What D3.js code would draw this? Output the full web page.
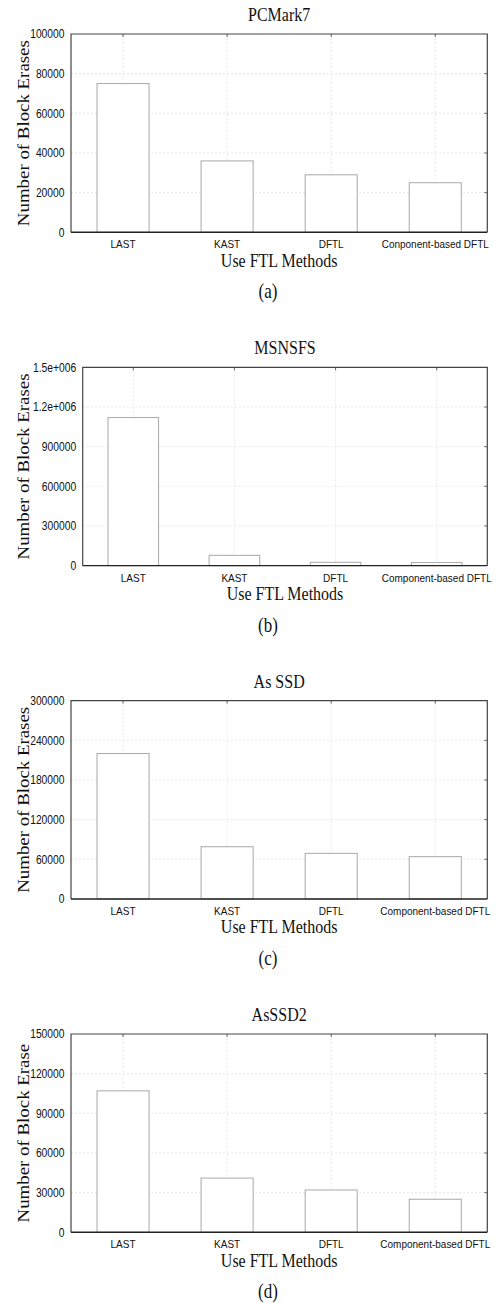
<!DOCTYPE html>
<html>
<head>
<meta charset="utf-8">
<script src="https://cdn.jsdelivr.net/npm/d3@7"></script>
<style>
  body { margin: 0; background: #fff; }
  svg { display: block; }
</style>
</head>
<body>
<svg id="chart" width="496" height="1303"></svg>
<script>
// data
var titles = ["PCMark7", "MSNSFS", "As SSD", "AsSSD2"];
var panelTags = ["(a)", "(b)", "(c)", "(d)"];
var categoriesA = ["LAST", "KAST", "DFTL", "Conponent-based DFTL"];
var categories = ["LAST", "KAST", "DFTL", "Component-based DFTL"];
var pcmark7 = [75000, 36000, 29000, 25000];
var msnsfs = [1120000, 78000, 25000, 23000];
var asSSD = [220000, 79000, 69000, 64000];
var asSSD2 = [107000, 41000, 32000, 25000];
var ticksA = [0, 20000, 40000, 60000, 80000, 100000];
var ticksB = [0, 300000, 600000, 900000, 1200000, 1500000];
var tickLabelsB = ["0", "300000", "600000", "900000", "1.2e+006", "1.5e+006"];
var ticksC = [0, 60000, 120000, 180000, 240000, 300000];
var ticksD = [0, 30000, 60000, 90000, 120000, 150000];
var yTitles = ["Number of Block Erases", "Number of Block Erases", "Number of Block Erases", "Number of Block Erase"];
var xTitle = "Use FTL Methods";

var panels = [
  { title: titles[0], tag: panelTags[0], cats: categoriesA, vals: pcmark7, ticks: ticksA, labels: ticksA.map(String), yTitle: yTitles[0], left: 71 },
  { title: titles[1], tag: panelTags[1], cats: categories, vals: msnsfs, ticks: ticksB, labels: tickLabelsB, yTitle: yTitles[1], left: 82.7 },
  { title: titles[2], tag: panelTags[2], cats: categories, vals: asSSD, ticks: ticksC, labels: ticksC.map(String), yTitle: yTitles[2], left: 71 },
  { title: titles[3], tag: panelTags[3], cats: categories, vals: asSSD2, ticks: ticksD, labels: ticksD.map(String), yTitle: yTitles[3], left: 71 }
];

var svg = d3.select("#chart");
var right = 487.3, plotH = 198.3, stretch = 1.18;
var serif = "'Liberation Serif', 'Times New Roman', serif";
var sans = "'Liberation Sans', Arial, sans-serif";

panels.forEach(function (p, i) {
  var top = 34 + i * 333.33;
  var bottom = top + plotH;
  var g = svg.append("g");

  var x = d3.scaleBand().domain(p.cats).range([p.left, right]).paddingInner(0.5).paddingOuter(0.25);
  var y = d3.scaleLinear().domain([0, d3.max(p.ticks)]).range([bottom, top]);

  // grid
  g.selectAll(".hgrid").data(p.ticks.slice(1, -1)).enter().append("line")
    .attr("x1", p.left).attr("x2", right)
    .attr("y1", function (d) { return y(d); }).attr("y2", function (d) { return y(d); })
    .attr("stroke", "#e2e2e2").attr("stroke-width", 0.8).attr("stroke-dasharray", "2,2");
  g.selectAll(".vgrid").data(p.cats).enter().append("line")
    .attr("x1", function (d) { return x(d) + x.bandwidth() / 2; })
    .attr("x2", function (d) { return x(d) + x.bandwidth() / 2; })
    .attr("y1", top).attr("y2", bottom)
    .attr("stroke", "#e2e2e2").attr("stroke-width", 0.8).attr("stroke-dasharray", "2,2");

  // bars
  g.selectAll("rect.bar").data(p.vals).enter().append("rect")
    .attr("class", "bar")
    .attr("x", function (d, j) { return x(p.cats[j]); })
    .attr("y", function (d) { return y(d); })
    .attr("width", x.bandwidth())
    .attr("height", function (d) { return bottom - y(d); })
    .attr("fill", "#fff").attr("stroke", "#a8a8a8").attr("stroke-width", 1);

  // inner tick marks on top and right edges
  g.selectAll(".tt").data(p.cats).enter().append("line")
    .attr("x1", function (d) { return x(d) + x.bandwidth() / 2; })
    .attr("x2", function (d) { return x(d) + x.bandwidth() / 2; })
    .attr("y1", top).attr("y2", top + 3).attr("stroke", "#666");
  g.selectAll(".rt").data(p.ticks.slice(1, -1)).enter().append("line")
    .attr("x1", right - 3).attr("x2", right)
    .attr("y1", function (d) { return y(d); }).attr("y2", function (d) { return y(d); })
    .attr("stroke", "#666");

  // frame
  g.append("path")
    .attr("d", "M" + p.left + "," + bottom + "V" + top + "H" + right + "V" + bottom)
    .attr("fill", "none").attr("stroke", "#444").attr("stroke-width", 1.2);
  g.append("line")
    .attr("x1", p.left).attr("x2", right).attr("y1", bottom).attr("y2", bottom)
    .attr("stroke", "#222").attr("stroke-width", 1.4);

  // y tick labels
  g.selectAll(".yl").data(p.ticks).enter().append("text")
    .attr("transform", function (d) { return "translate(" + (p.left - 6.5) + "," + y(d) + ") scale(1," + stretch + ")"; })
    .attr("dy", "0.36em").attr("text-anchor", "end")
    .style("font-family", sans).style("font-size", "10.3px").attr("fill", "#111")
    .text(function (d, j) { return p.labels[j]; });

  // x category labels
  g.selectAll(".xl").data(p.cats).enter().append("text")
    .attr("transform", function (d) { return "translate(" + (x(d) + x.bandwidth() / 2) + "," + (bottom + 11.7) + ") scale(1," + stretch + ")"; })
    .attr("dy", "0.36em").attr("text-anchor", "middle")
    .style("font-family", sans).style("font-size", "10px").attr("fill", "#111")
    .text(function (d) { return d; });

  // titles
  g.append("text")
    .attr("transform", "translate(" + ((p.left + right) / 2) + "," + (top - 19.5) + ") scale(1," + stretch + ")")
    .attr("dy", "0.35em").attr("text-anchor", "middle")
    .style("font-family", serif).style("font-size", "16px").attr("fill", "#111")
    .text(p.title);
  g.append("text")
    .attr("transform", "translate(" + ((p.left + right) / 2) + "," + (bottom + 27.7) + ") scale(1," + stretch + ")")
    .attr("dy", "0.35em").attr("text-anchor", "middle")
    .style("font-family", serif).style("font-size", "16px").attr("fill", "#111")
    .text(xTitle);
  g.append("text")
    .attr("transform", "translate(23," + ((top + bottom) / 2) + ") rotate(-90) scale(" + stretch + ",1)")
    .attr("dy", "0.35em").attr("text-anchor", "middle")
    .style("font-family", serif).style("font-size", "16px").attr("fill", "#111")
    .text(p.yTitle);
  g.append("text")
    .attr("transform", "translate(268," + (bottom + 59) + ") scale(1," + stretch + ")")
    .attr("dy", "0.35em").attr("text-anchor", "middle")
    .style("font-family", serif).style("font-size", "17px").attr("fill", "#111")
    .text(p.tag);
});
</script>
</body>
</html>
